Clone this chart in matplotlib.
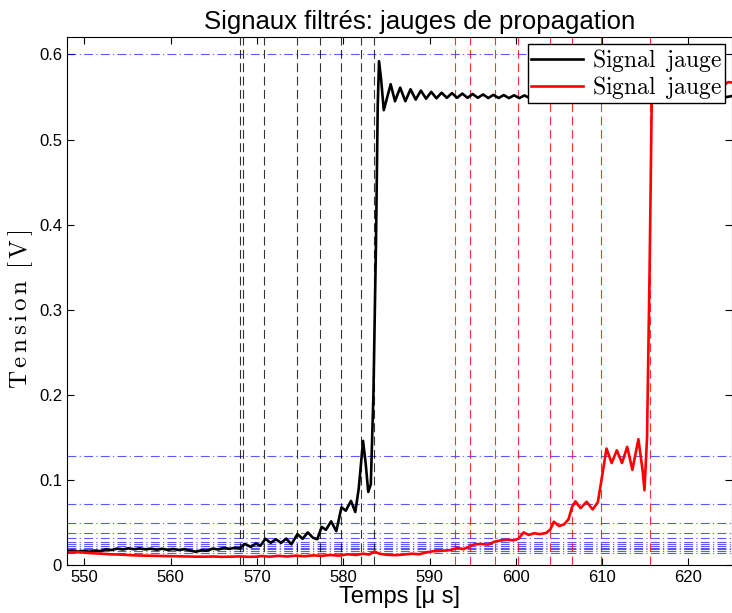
import matplotlib
matplotlib.use('Agg')
from matplotlib import pyplot as plt

plt.rcParams['font.family'] = ['Liberation Sans', 'DejaVu Sans']
plt.rcParams['mathtext.fontset'] = 'cm'

# Signal jauge 1 (noir)
t_noir = [548.0, 548.6, 549.3, 549.9, 550.6, 551.2, 551.9, 552.5, 553.2, 553.8,
          554.5, 555.1, 555.8, 556.4, 557.1, 557.7, 558.4, 559.0, 559.7, 560.3,
          561.0, 561.6, 562.3, 562.9, 563.6, 564.2, 564.9, 565.5, 566.2, 566.8,
          567.5, 568.0, 568.6, 569.3, 569.9, 570.4, 571.0, 571.6, 572.2, 572.8,
          573.4, 574.0, 574.7, 575.3, 575.9, 576.5, 577.0, 577.5, 578.0, 578.6,
          579.2, 579.8, 580.3, 580.9, 581.4, 581.8, 582.3, 582.6, 582.9, 583.2,
          583.5, 583.8, 584.0, 584.15, 584.4, 584.7, 585.1, 585.5, 586.0, 586.6,
          587.2, 587.8, 588.4, 589.0, 589.6, 590.2, 590.8, 591.4, 592.0, 592.6,
          593.2, 593.8, 594.4, 595.0, 595.6, 596.2, 596.8, 597.4, 598.0, 598.6,
          599.2, 599.8, 600.4, 601.0, 601.6, 602.2, 602.8, 603.4, 604.0, 604.6,
          605.2, 605.8, 606.4, 607.0, 607.6, 608.2, 608.8, 609.4, 610.0, 610.6,
          611.2, 611.8, 612.4, 613.0, 613.6, 614.2, 614.8, 615.4, 616.0, 616.6,
          617.2, 617.8, 618.4, 619.0, 619.6, 620.2, 620.8, 621.4, 622.0, 622.6,
          623.2, 623.8, 624.4, 625.0]
v_noir = [0.0163, 0.0170, 0.0160, 0.0168, 0.0158, 0.0172, 0.0165, 0.0185, 0.0178, 0.0195,
          0.0185, 0.0198, 0.0187, 0.0197, 0.0186, 0.0194, 0.0182, 0.0193, 0.0180, 0.0190,
          0.0178, 0.0188, 0.0172, 0.0158, 0.0175, 0.0170, 0.0195, 0.0185, 0.0203, 0.0192,
          0.0205, 0.0198, 0.0250, 0.0215, 0.0255, 0.0228, 0.0310, 0.0262, 0.0305, 0.0262,
          0.0312, 0.0245, 0.0365, 0.0310, 0.0385, 0.0322, 0.0305, 0.0450, 0.0415, 0.0515,
          0.0400, 0.0680, 0.0640, 0.0755, 0.0625, 0.0900, 0.1460, 0.1200, 0.0860, 0.0950,
          0.2000, 0.3800, 0.5400, 0.5920, 0.5700, 0.5345, 0.5500, 0.5650, 0.5450, 0.5610,
          0.5450, 0.5590, 0.5470, 0.5575, 0.5480, 0.5560, 0.5485, 0.5550, 0.5490, 0.5545,
          0.5490, 0.5540, 0.5490, 0.5535, 0.5490, 0.5530, 0.5488, 0.5525, 0.5488, 0.5522,
          0.5487, 0.5520, 0.5487, 0.5518, 0.5487, 0.5517, 0.5488, 0.5516, 0.5488, 0.5515,
          0.5489, 0.5515, 0.5489, 0.5514, 0.5490, 0.5514, 0.5490, 0.5514, 0.5491, 0.5514,
          0.5491, 0.5515, 0.5492, 0.5515, 0.5492, 0.5516, 0.5493, 0.5516, 0.5494, 0.5517,
          0.5494, 0.5518, 0.5495, 0.5518, 0.5496, 0.5519, 0.5496, 0.5520, 0.5497, 0.5520,
          0.5498, 0.5521, 0.5499, 0.5510]

# Signal jauge 2 (rouge)
t_rouge = [548.0, 549.0, 550.0, 551.0, 552.0, 553.0, 554.0, 555.0, 556.0, 557.0,
           558.0, 559.0, 560.0, 561.0, 562.0, 563.0, 564.0, 565.0, 566.0, 567.0,
           568.0, 569.0, 570.0, 570.5, 571.5, 572.5, 573.5, 574.5, 575.5, 576.5,
           577.5, 578.5, 579.5, 580.5, 581.5, 582.3, 583.0, 583.6, 584.2, 585.0,
           586.0, 587.0, 588.0, 588.8, 589.6, 590.5, 591.5, 592.5, 593.2, 593.9,
           594.6, 595.2, 596.0, 596.8, 597.5, 598.2, 599.0, 599.7, 600.3, 600.9,
           601.5, 602.1, 602.8, 603.5, 604.0, 604.4, 605.0, 605.6, 606.1, 606.5,
           606.9, 607.5, 608.2, 608.9, 609.5, 610.0, 610.5, 611.1, 611.7, 612.3,
           612.9, 613.5, 614.2, 614.7, 614.9, 615.2, 615.5, 615.8, 616.2, 616.8,
           617.4, 618.0, 618.6, 619.2, 619.8, 620.4, 621.0, 621.6, 622.2, 622.8,
           623.4, 624.0, 624.6, 625.0]
v_rouge = [0.0150, 0.0155, 0.0148, 0.0140, 0.0135, 0.0128, 0.0125, 0.0120, 0.0115, 0.0112,
           0.0110, 0.0108, 0.0106, 0.0104, 0.0102, 0.0100, 0.0100, 0.0102, 0.0098, 0.0100,
           0.0103, 0.0098, 0.0100, 0.0108, 0.0100, 0.0110, 0.0102, 0.0112, 0.0105, 0.0115,
           0.0110, 0.0120, 0.0112, 0.0128, 0.0120, 0.0135, 0.0125, 0.0160, 0.0135, 0.0122,
           0.0118, 0.0125, 0.0135, 0.0128, 0.0150, 0.0165, 0.0170, 0.0178, 0.0205, 0.0188,
           0.0218, 0.0245, 0.0250, 0.0242, 0.0275, 0.0290, 0.0300, 0.0292, 0.0310, 0.0385,
           0.0355, 0.0375, 0.0365, 0.0378, 0.0420, 0.0510, 0.0460, 0.0480, 0.0540, 0.0680,
           0.0750, 0.0670, 0.0745, 0.0655, 0.0740, 0.1050, 0.1370, 0.1200, 0.1350, 0.1200,
           0.1390, 0.1120, 0.1480, 0.1100, 0.0880, 0.1500, 0.3500, 0.5900, 0.5700, 0.5470,
           0.5800, 0.5550, 0.5750, 0.5580, 0.5720, 0.5600, 0.5700, 0.5610, 0.5690, 0.5620,
           0.5680, 0.5630, 0.5675, 0.5670]

# Lignes de repère
x_noir = [568.1, 568.35, 570.8, 574.6, 577.3, 579.7, 582.1, 583.6]
x_rouge = [592.9, 594.7, 597.6, 600.3, 603.9, 606.5, 609.9, 615.5]
y_bleu = [0.6, 0.1286, 0.0718, 0.0498, 0.0380, 0.0314, 0.0274, 0.0247,
          0.0224, 0.0204, 0.0185, 0.0165, 0.0149]

xticks = [550, 560, 570, 580, 590, 600, 610, 620]
yticks = [0, 0.1, 0.2, 0.3, 0.4, 0.5, 0.6]
ylabels = ['0', '0.1', '0.2', '0.3', '0.4', '0.5', '0.6']

fig = plt.figure(figsize=(7.32, 6.13), dpi=100)
ax = fig.add_axes([0.0915, 0.078, 0.908, 0.861])

for y in y_bleu:
    ax.axhline(y, color='blue', alpha=0.65, lw=0.8, linestyle=(0, (8, 3, 1, 3)))
for x in x_noir:
    ax.axvline(x, color='black', alpha=0.8, lw=0.8, linestyle=(0, (8, 4)))
for x in x_rouge:
    ax.axvline(x, color='red', alpha=0.8, lw=0.8, linestyle=(0, (8, 4)))

label = r'$\mathrm{Signal\;\;jauge}$'
ax.plot(t_noir, v_noir, color='black', lw=1.9, label=label)
ax.plot(t_rouge, v_rouge, color='red', lw=1.9, label=label)

ax.set_xlim(548, 625)
ax.set_ylim(0, 0.62)
ax.set_xticks(xticks)
ax.set_yticks(yticks)
ax.set_yticklabels(ylabels)
ax.tick_params(direction='in', top=True, right=True, labelsize=12, length=5)

ax.set_title('Signaux filtrés: jauges de propagation', fontsize=18.5, pad=6, x=0.53)
ax.set_xlabel('Temps [μ s]', fontsize=17, labelpad=1)
ax.set_ylabel(r'$\mathrm{T\,e\,n\,s\,i\,o\,n\;\;[\,V\,]}$', fontsize=18)
ax.yaxis.set_label_coords(-0.048, 0.485)

leg = ax.legend(loc='upper right', fontsize=17, fancybox=False, framealpha=1,
                edgecolor='black', borderaxespad=0.3, handlelength=2.2,
                borderpad=0.1, labelspacing=0.0, handletextpad=0.4)
leg.get_frame().set_linewidth(1.0)

plt.savefig('out.png', dpi=100)
